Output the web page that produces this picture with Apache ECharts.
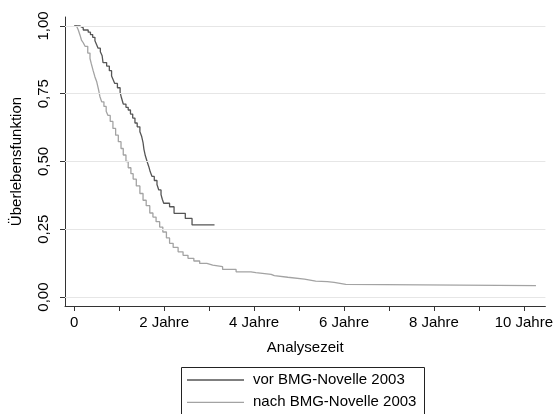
<!DOCTYPE html>
<html><head><meta charset="utf-8">
<script src="https://cdn.jsdelivr.net/npm/echarts@6/dist/echarts.min.js"></script>
<style>html,body{margin:0;padding:0;background:#fff}#c{width:556px;height:414px}</style>
</head><body><div id="c"></div>
<script>
// --- data (years, survival) ---
const vorTimes = [0,0.12,0.2,0.31,0.36,0.41,0.46,0.5,0.53,0.58,0.62,0.64,0.72,0.78,0.83,0.87,0.9,0.96,1.02,1.05,1.09,1.15,1.2,1.25,1.3,1.35,1.4,1.46,1.5,1.53,1.55,1.58,1.62,1.66,1.69,1.73,1.78,1.84,1.88,1.93,1.96,1.99,2.12,2.22,2.47,2.62,3.12];
const vorSurv  = [1,0.993,0.985,0.977,0.968,0.958,0.945,0.93,0.918,0.905,0.89,0.865,0.852,0.835,0.815,0.8,0.788,0.772,0.755,0.735,0.712,0.7,0.69,0.675,0.66,0.642,0.628,0.61,0.592,0.57,0.545,0.522,0.5,0.48,0.462,0.445,0.43,0.415,0.395,0.378,0.36,0.346,0.333,0.309,0.29,0.266,0.266];
const nachTimes = [0,0.05,0.09,0.13,0.16,0.2,0.24,0.3,0.35,0.38,0.42,0.46,0.5,0.54,0.57,0.61,0.66,0.71,0.75,0.8,0.86,0.92,0.98,1.04,1.09,1.15,1.2,1.26,1.31,1.38,1.46,1.53,1.6,1.68,1.75,1.82,1.9,1.97,2.05,2.12,2.2,2.31,2.42,2.53,2.66,2.79,2.95,3.08,3.3,3.6,3.93,4.04,4.38,4.45,4.75,5.12,5.37,5.63,5.78,6.04,10.27];
const nachSurv  = [1,0.995,0.985,0.965,0.948,0.938,0.925,0.9,0.88,0.86,0.835,0.812,0.794,0.765,0.74,0.72,0.703,0.685,0.67,0.648,0.622,0.597,0.573,0.548,0.524,0.5,0.477,0.455,0.435,0.41,0.382,0.357,0.337,0.31,0.295,0.278,0.258,0.24,0.218,0.198,0.183,0.167,0.154,0.143,0.133,0.124,0.118,0.112,0.102,0.093,0.09,0.084,0.079,0.073,0.066,0.059,0.057,0.054,0.047,0.042,0.042];
const xTicks = [0,1,2,3,4,5,6,7,8,9,10];
const xLabels = [0,2,4,6,8,10];
const yTicks = [0,0.25,0.5,0.75,1];
const seriesNames = ['vor BMG-Novelle 2003','nach BMG-Novelle 2003'];
const seriesColors = ['#555555','#a3a3a3'];

const FONT = "'Liberation Sans', Arial, sans-serif";
const FS = 15;
const zip = (a,b) => a.map((v,i)=>[v,b[i]]);
const chart = echarts.init(document.getElementById('c'), null, {renderer:'canvas'});

const legendGraphics = [
  {type:'rect', shape:{x:181.5,y:367.5,width:243,height:80}, style:{fill:'none',stroke:'#222',lineWidth:1}, silent:true}
];
seriesNames.forEach((n,i)=>{
  const y = 380 + i*22.3;
  legendGraphics.push({type:'line', shape:{x1:187,y1:y,x2:244,y2:y}, style:{stroke:seriesColors[i],lineWidth:1.3}, silent:true});
  legendGraphics.push({type:'text', x:253, y:y, style:{text:n,fontSize:FS,fontFamily:FONT,fill:'#000',verticalAlign:'middle',align:'left'}, silent:true});
});

chart.setOption({
  animation:false,
  backgroundColor:'#fff',
  textStyle:{fontFamily:FONT},
  grid:{left:65,right:9,top:17,bottom:108,containLabel:false},
  xAxis:{
    type:'value', min:-0.206, max:10.48,
    name:'Analysezeit', nameLocation:'middle', nameGap:34,
    nameTextStyle:{fontSize:FS,color:'#000',fontFamily:FONT},
    axisLine:{show:true,onZero:false,lineStyle:{color:'#333',width:1}},
    axisTick:{show:true,length:5,customValues:xTicks,lineStyle:{color:'#333'}},
    axisLabel:{customValues:xLabels,margin:9,fontSize:FS,color:'#000',fontFamily:FONT,
      formatter:v=> v===0 ? '0' : v+' Jahre'},
    splitLine:{show:false}
  },
  yAxis:{
    type:'value', min:-0.033, max:1.033,
    name:'Überlebensfunktion', nameLocation:'middle', nameGap:41, nameRotate:90,
    nameTextStyle:{fontSize:FS,color:'#000',fontFamily:FONT},
    axisLine:{show:true,onZero:false,lineStyle:{color:'#333',width:1}},
    axisTick:{show:true,length:5,customValues:yTicks,lineStyle:{color:'#333'}},
    axisLabel:{customValues:yTicks,rotate:90,margin:14,fontSize:FS,color:'#000',fontFamily:FONT,
      formatter:v=> v.toFixed(2).replace('.',',')},
    splitLine:{show:false}
  },
  graphic:legendGraphics,
  series:[
    {type:'line',name:'grid',data:[],silent:true,z:1,
     markLine:{silent:true,symbol:['none','none'],label:{show:false},
       lineStyle:{color:'#e6e6e6',type:'solid',width:1},
       data:yTicks.map(v=>({yAxis:v}))}},
    {type:'line',name:seriesNames[0],step:'end',showSymbol:false,symbol:'none',z:3,
     lineStyle:{color:seriesColors[0],width:1.3},itemStyle:{color:seriesColors[0]},
     data:zip(vorTimes,vorSurv)},
    {type:'line',name:seriesNames[1],step:'end',showSymbol:false,symbol:'none',z:2,
     lineStyle:{color:seriesColors[1],width:1.3},itemStyle:{color:seriesColors[1]},
     data:zip(nachTimes,nachSurv)}
  ]
});
</script></body></html>
